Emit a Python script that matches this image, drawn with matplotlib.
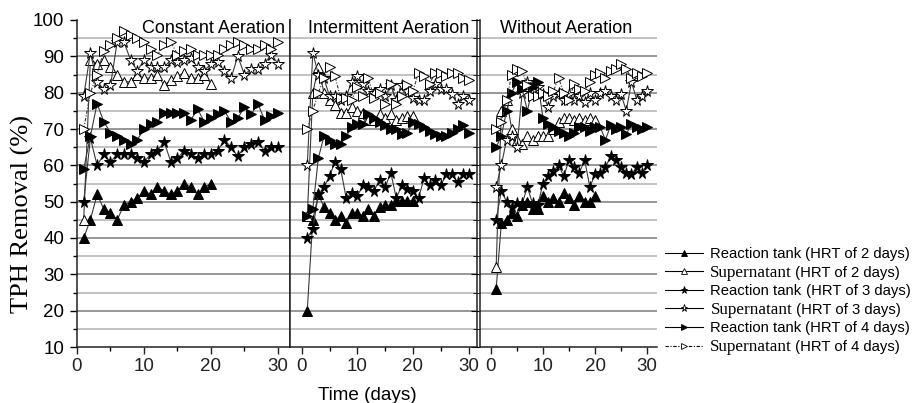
import matplotlib
matplotlib.use('Agg')
import matplotlib.pyplot as plt
from matplotlib.lines import Line2D
from matplotlib.ticker import MultipleLocator

# ---------------- data ----------------
days20 = [1, 2, 3, 4, 5, 6, 7, 8, 9, 10, 11, 12, 13, 14, 15, 16, 17, 18, 19, 20]
days30 = [1, 2, 3, 4, 5, 6, 7, 8, 9, 10, 11, 12, 13, 14, 15, 16, 17, 18, 19, 20,
          21, 22, 23, 24, 25, 26, 27, 28, 29, 30]

panel_titles = ["Constant Aeration", "Intermittent Aeration", "Without Aeration"]

# Constant aeration
const_rt2 = [40, 45, 52, 48, 47, 45, 49, 50, 51, 53, 52, 54, 53, 52, 53, 55, 54, 52, 54, 55]
const_sn2 = [45, 89, 88, 89, 87, 85, 83, 83, 85, 84, 84, 85, 82, 83.5, 84.5, 85.5, 84, 84, 85, 82.5]
const_rt3 = [50, 67.5, 60, 63, 61, 63, 63, 63, 62, 61, 63, 64, 66.5, 61, 62, 64, 63, 62, 63, 63,
             64, 67, 65, 62.5, 65, 66, 66.5, 64, 65, 65]
const_sn3 = [79, 91, 83, 81, 82, 94, 94, 89, 86, 89, 87, 87, 87, 89, 88.5, 89, 89.5, 87, 86, 88,
             88.5, 86, 84, 90, 85, 86.5, 86.5, 88, 90.5, 88]
const_rt4 = [59, 68, 77, 72, 69, 68, 67, 66, 67, 70, 71.5, 72, 74.5, 74.5, 74.5, 74.5, 72.5, 75.5, 72, 73,
             74, 75, 72, 73, 76, 74, 77, 72.5, 73.5, 74.5]
const_sn4 = [70, 80, 85, 91.5, 93, 95, 97, 96, 95, 94, 92, 90.5, 93, 94, 90.5, 91.5, 92, 90.5, 90.5, 90.5,
             90.5, 92, 93, 94, 93, 92, 92, 93, 92, 94]

# Intermittent aeration
inter_rt2 = [20, 45, 52, 48.5, 47, 45, 46, 44, 47, 47, 46, 48, 46, 48.5, 49, 49, 50.3, 50.3, 50.3, 50.3]
inter_sn2 = [46, 80, 87, 80, 78, 76.5, 74.5, 74.5, 76, 75, 74.5, 72.5, 72.5, 74, 73, 74, 72.5, 73, 73.5, 73.5]
inter_rt3 = [40, 42.5, 52, 54, 57, 61, 59, 51, 52.5, 51.5, 54.5, 54, 53, 56, 54, 58, 51, 54.5, 53.5, 53,
             51, 56.5, 54.5, 56, 54.5, 57.5, 57.5, 55.5, 57.5, 57.5]
inter_sn3 = [60, 91, 85, 84, 79, 79, 78, 79, 83, 84.5, 82.5, 80.5, 80, 81, 79, 82, 78, 82, 80.5, 78.5,
             78, 78, 80.5, 82.5, 81, 81, 79.5, 77, 79, 78]
inter_rt4 = [46, 48, 62, 68, 67, 66, 66, 68, 70.5, 71.5, 71.5, 74, 73, 72, 71, 70, 70, 68.5, 69, 72,
             71.5, 70.5, 69.5, 68.5, 68, 68, 69, 70, 71, 69]
inter_sn4 = [70, 75, 80, 84, 87, 84.5, 78.5, 78.5, 78, 81.5, 79, 84, 78.5, 80, 77, 82.5, 77, 79, 82, 80.5,
             85.5, 84.5, 82.5, 85.5, 85.5, 84.5, 85.5, 85.5, 84, 83.5]

# Without aeration
without_rt2 = [26, 44, 45, 47, 46, 49, 50, 48, 48, 51.5, 50, 51, 50, 52.5, 51, 49, 51.5, 50, 50, 51.5]
without_sn2 = [32, 75, 78, 70, 67, 66, 68, 67, 68, 68, 68, 70, 72, 73, 73, 72.5, 73, 72.5, 73, 72.5]
without_rt3 = [45, 53, 50, 48.5, 49.5, 49.5, 54, 49.5, 49, 55, 57, 58.5, 60, 57, 61.5, 59.5, 58, 61.5, 54, 57.5,
               58, 59.5, 62.5, 61.5, 59.5, 58, 57.5, 59.5, 58, 60]
without_sn3 = [54, 60, 67, 68, 65, 80, 83, 82, 81.5, 79.5, 76, 79, 80, 78, 79.5, 78, 79, 77.5, 80, 78,
               80, 80.5, 79, 78, 79.5, 75, 83, 78, 79, 80.5]
without_rt4 = [65, 68, 75, 80, 83, 81, 75, 81.5, 83, 73, 71.5, 70.5, 69.5, 69, 68, 69, 70.5, 70.5, 69.5, 70.5,
               70.5, 67, 71, 70, 70.5, 68.5, 71.5, 70.5, 70, 70.5]
without_sn4 = [70, 72, 78, 85, 86.5, 86, 82, 79, 79, 80, 79, 80.5, 84, 80, 78, 82.5, 81, 80.5, 83, 85,
               85.5, 84, 86, 86.5, 88, 86.5, 84, 85.5, 84.5, 85.5]

series_names = ["Reaction tank", "Supernatant", "Reaction tank",
                "Supernatant", "Reaction tank", "Supernatant"]
series_hrt = [" (HRT of 2 days)", " (HRT of 2 days)", " (HRT of 3 days)",
              " (HRT of 3 days)", " (HRT of 4 days)", " (HRT of 4 days)"]

panels = [
    [(days20, const_rt2), (days20, const_sn2), (days30, const_rt3),
     (days30, const_sn3), (days30, const_rt4), (days30, const_sn4)],
    [(days20, inter_rt2), (days20, inter_sn2), (days30, inter_rt3),
     (days30, inter_sn3), (days30, inter_rt4), (days30, inter_sn4)],
    [(days20, without_rt2), (days20, without_sn2), (days30, without_rt3),
     (days30, without_sn3), (days30, without_rt4), (days30, without_sn4)],
]

# ---------------- styles ----------------
styles = [
    dict(marker='^', ms=6.5, mfc='black', mec='black', ls='-'),
    dict(marker='^', ms=6.5, mfc='white', mec='black', ls='-'),
    dict(marker='*', ms=8.5, mfc='black', mec='black', ls='-'),
    dict(marker='*', ms=8.5, mfc='white', mec='black', ls='-'),
    dict(marker='>', ms=6.5, mfc='black', mec='black', ls='-'),
    dict(marker='>', ms=6.5, mfc='white', mec='black', ls=(0, (3, 1.5, 1, 1.5))),
]
label_fonts = [('Liberation Sans', 10.7), ('Liberation Serif', 12.3)] * 3
line_color = '#3a3a3a'

W, H = 915, 403
fig = plt.figure(figsize=(W / 100, H / 100), dpi=100)


def rect(l, r, t=20, b=347):
    return [l / W, 1 - b / H, (r - l) / W, (b - t) / H]


axes = [fig.add_axes(rect(77, 290)), fig.add_axes(rect(290, 477)), fig.add_axes(rect(480, 657))]
xlims = [(0, 31.8), (-2.1, 31.5), (-2.1, 31.9)]
title_pos = [(0.977, 'right'), (0.096, 'left'), (0.113, 'left')]

for i, ax in enumerate(axes):
    ax.set_xlim(*xlims[i])
    ax.set_ylim(10, 100)
    for yv in range(15, 100, 5):
        ax.axhline(yv, color='#8f8f8f' if yv % 10 == 0 else '#bdbdbd',
                   lw=1.3, zorder=0)
    for (xs, ys), st in zip(panels[i], styles):
        ax.plot(xs, ys, color=line_color, lw=0.8, ls=st['ls'], marker=st['marker'],
                ms=st['ms'], mfc=st['mfc'], mec=st['mec'], mew=0.7, zorder=3)
    ax.xaxis.set_major_locator(MultipleLocator(10))
    ax.xaxis.set_minor_locator(MultipleLocator(5))
    ax.yaxis.set_major_locator(MultipleLocator(10))
    ax.yaxis.set_minor_locator(MultipleLocator(5))
    ax.tick_params(axis='x', which='major', direction='out', length=5, width=1,
                   labelsize=13.5, pad=3, colors='#222222')
    ax.tick_params(axis='x', which='minor', direction='out', length=3, width=1)
    ax.spines['top'].set_visible(False)
    for s in ax.spines.values():
        s.set_linewidth(1.1)
        s.set_color('#222222')
    ax.text(title_pos[i][0], 1.0, panel_titles[i], transform=ax.transAxes,
            ha=title_pos[i][1], va='top', fontsize=13, family='Liberation Sans')

# panel-specific spines / y ticks
a1, a2, a3 = axes
a1.tick_params(axis='y', which='major', direction='out', length=5, width=1,
               labelsize=13.5, pad=4, right=False)
a1.tick_params(axis='y', which='minor', direction='out', length=3, width=1, right=False)
a1.set_yticks([10, 20, 30, 40, 50, 60, 70, 80, 90, 100])
a1.set_yticklabels(['10', '20', '30', '40', '50', '60', '70', '80', '90', '100'],
                   family='Liberation Sans')

a2.yaxis.set_ticks_position('right')
a2.tick_params(axis='y', which='both', direction='in', labelright=False, labelleft=False)
a2.tick_params(axis='y', which='major', length=4)
a2.tick_params(axis='y', which='minor', length=3)

a3.spines['right'].set_visible(False)
a3.tick_params(axis='y', which='both', direction='out', labelleft=False, right=False)
a3.tick_params(axis='y', which='major', length=3)
a3.tick_params(axis='y', which='minor', length=2)

for ax in axes:
    for lab in ax.get_xticklabels():
        lab.set_family('Liberation Sans')

# axis labels
fig.text(22 / W, 1 - 214 / H, "TPH Removal (%)", rotation=90, ha='center', va='center',
         fontsize=19, family='Liberation Serif')
fig.text(367 / W, 1 - 400 / H, "Time (days)", ha='center', va='baseline',
         fontsize=13.6, family='Liberation Sans')

# legend (handles from the library; labels written next to each handle,
# so that the two font families of the original can be kept)
handles = [Line2D([], [], color='black', lw=0.8, ls=st['ls'], marker=st['marker'],
                  ms=st['ms'] * 0.6, mfc=st['mfc'], mec='black', mew=0.6)
           for st in styles]
leg = fig.legend(handles, [' '] * len(handles), loc='upper left',
                 bbox_to_anchor=(665 / W, 1 - 246 / H), frameon=False,
                 borderpad=0, borderaxespad=0, handlelength=2.55, handletextpad=0.0,
                 labelspacing=0.24, fontsize=10.7)

fig.canvas.draw()
renderer = fig.canvas.get_renderer()
fw, fh = fig.bbox.width, fig.bbox.height
for hl, name, suffix, (fam, fs) in zip(leg.legend_handles, series_names, series_hrt, label_fonts):
    bb = hl.get_window_extent(renderer)
    yc = 0.5 * (bb.y0 + bb.y1)
    x0 = bb.x1 + 4
    base = yc - 0.36 * 10.7 * 100 / 72
    t1 = fig.text(x0 / fw, base / fh, name, ha='left', va='baseline',
                  fontsize=fs, family=fam)
    b1 = t1.get_window_extent(renderer)
    fig.text(b1.x1 / fw, base / fh, suffix, ha='left', va='baseline',
             fontsize=10.7, family='Liberation Sans')

fig.savefig('out.png', dpi=100)
